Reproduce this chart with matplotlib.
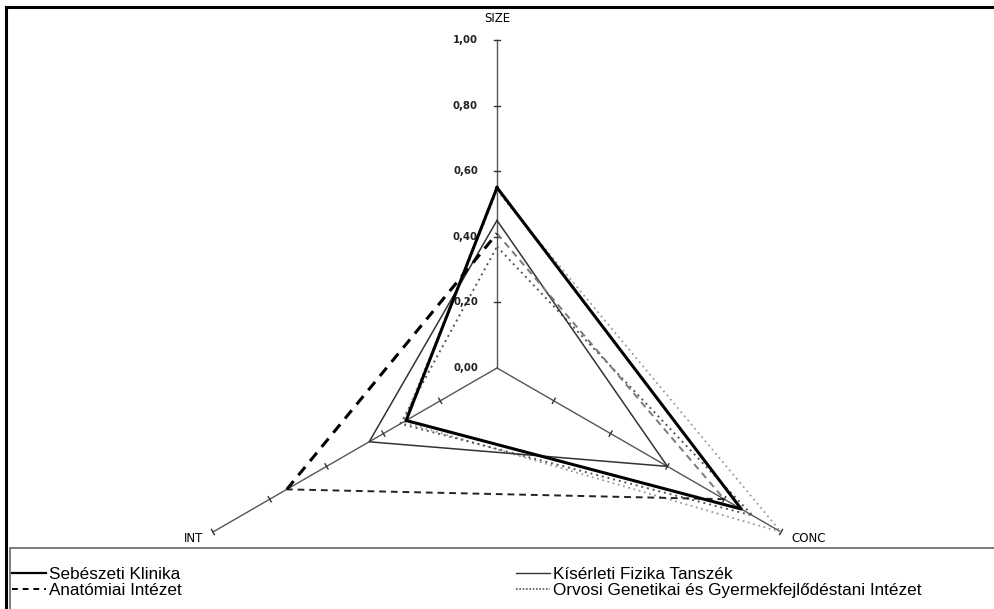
import numpy as np
import matplotlib
matplotlib.use("Agg")
import matplotlib.pyplot as plt
from matplotlib.lines import Line2D
from matplotlib.patches import Rectangle

# radar axes: SIZE (top), CONC (lower right), INT (lower left)
axis_names = ["SIZE", "CONC", "INT"]
axis_angles = [90, 330, 210]
tick_values = [0.0, 0.2, 0.4, 0.6, 0.8, 1.0]
tick_labels = ["0,00", "0,20", "0,40", "0,60", "0,80", "1,00"]

series_names = ["Sebészeti Klinika", "Anatómiai Intézet",
                "Kísérleti Fizika Tanszék",
                "Orvosi Genetikai és Gyermekfejlődéstani Intézet"]
# values in order SIZE, CONC, INT
sebeszeti = [0.55, 0.86, 0.32]
anatomiai = [0.41, 0.80, 0.74]
kiserleti = [0.45, 0.60, 0.45]
orvosi = [0.37, 0.90, 0.34]
extra = [0.54, 1.00, 0.33]   # faint extra line, not in legend

W, H = 995, 609
fig = plt.figure(figsize=(W / 100, H / 100), dpi=100)
ax = fig.add_axes([0, 0, 1, 1])
R = 328.0
cx, cy = 497.0, 368.0
ax.set_xlim(-cx / R, (W - cx) / R)
ax.set_ylim((cy - H) / R, cy / R)
ax.axis("off")

theta = np.radians(axis_angles)
ux, uy = np.cos(theta), np.sin(theta)


def closed_xy(vals):
    v = np.array(vals + vals[:1])
    t = np.concatenate([theta, theta[:1]])
    return v * np.cos(t), v * np.sin(t)


# axis spokes with tick marks
for k in range(3):
    ax.plot([0, ux[k]], [0, uy[k]], color="#555555", lw=1.0, zorder=1)
    px, py = -uy[k], ux[k]
    for t in tick_values[1:]:
        x0, y0 = t * ux[k], t * uy[k]
        ax.plot([x0 - 0.009 * px, x0 + 0.009 * px],
                [y0 - 0.009 * py, y0 + 0.009 * py],
                color="#333333", lw=1.0, zorder=1)

for t, lab in zip(tick_values, tick_labels):
    ax.text(-0.058, t, lab, ha="right", va="center", fontsize=7.3,
            fontweight="bold", color="#222222")

ax.text(0, 1.045, axis_names[0], ha="center", va="bottom", fontsize=8.5)
ax.text(ux[1] + 0.03, uy[1] - 0.02, axis_names[1], ha="left", va="center",
        fontsize=8.5)
ax.text(ux[2] - 0.03, uy[2] - 0.02, axis_names[2], ha="right", va="center",
        fontsize=8.5)

# series
x, y = closed_xy(extra)
ax.plot(x, y, color="#9a9a9a", lw=1.3, ls=(0, (1, 2)), zorder=2)
x, y = closed_xy(orvosi)
ax.plot(x, y, color="#555555", lw=1.4, ls=(0, (1, 2)), zorder=2)
x, y = closed_xy(kiserleti)
ax.plot(x, y, color="#333333", lw=1.1, zorder=3)
x, y = closed_xy(anatomiai)
seg_cols = ["#7a7a7a", "#222222", "#000000"]
for k in range(3):
    ax.plot(x[k:k + 2], y[k:k + 2], color=seg_cols[k],
            lw=2.2 if k == 2 else 1.4, ls=(0, (3.5, 2.5)), zorder=3)
x, y = closed_xy(sebeszeti)
ax.plot(x, y, color="black", lw=2.2, zorder=4)

# outer chart border (top/left) and legend box
fig.add_artist(Line2D([6 / W, 6 / W], [0, 1 - 7 / H], color="black", lw=2.2))
fig.add_artist(Line2D([6 / W, 1], [1 - 7 / H, 1 - 7 / H], color="black", lw=2.2))
fig.add_artist(Rectangle((10 / W, -0.01), 1.0, (H - 548) / H + 0.01,
                         fill=False, edgecolor="#666666", lw=1.2))

handles = [
    Line2D([], [], color="black", lw=1.6),
    Line2D([], [], color="black", lw=1.4, ls=(0, (3, 2.5))),
    Line2D([], [], color="#333333", lw=1.0),
    Line2D([], [], color="#555555", lw=1.2, ls=(0, (1, 1))),
]
fig.legend(handles, series_names, ncol=2, loc="upper left",
           bbox_to_anchor=(0 / W, 1 - 555 / H), frameon=False,
           handlelength=2.0, handletextpad=0.15,
           columnspacing=19.6, labelspacing=0.08, borderpad=0.2,
           prop={"family": "Liberation Sans", "size": 12.3})

fig.savefig("out.png", dpi=100)
